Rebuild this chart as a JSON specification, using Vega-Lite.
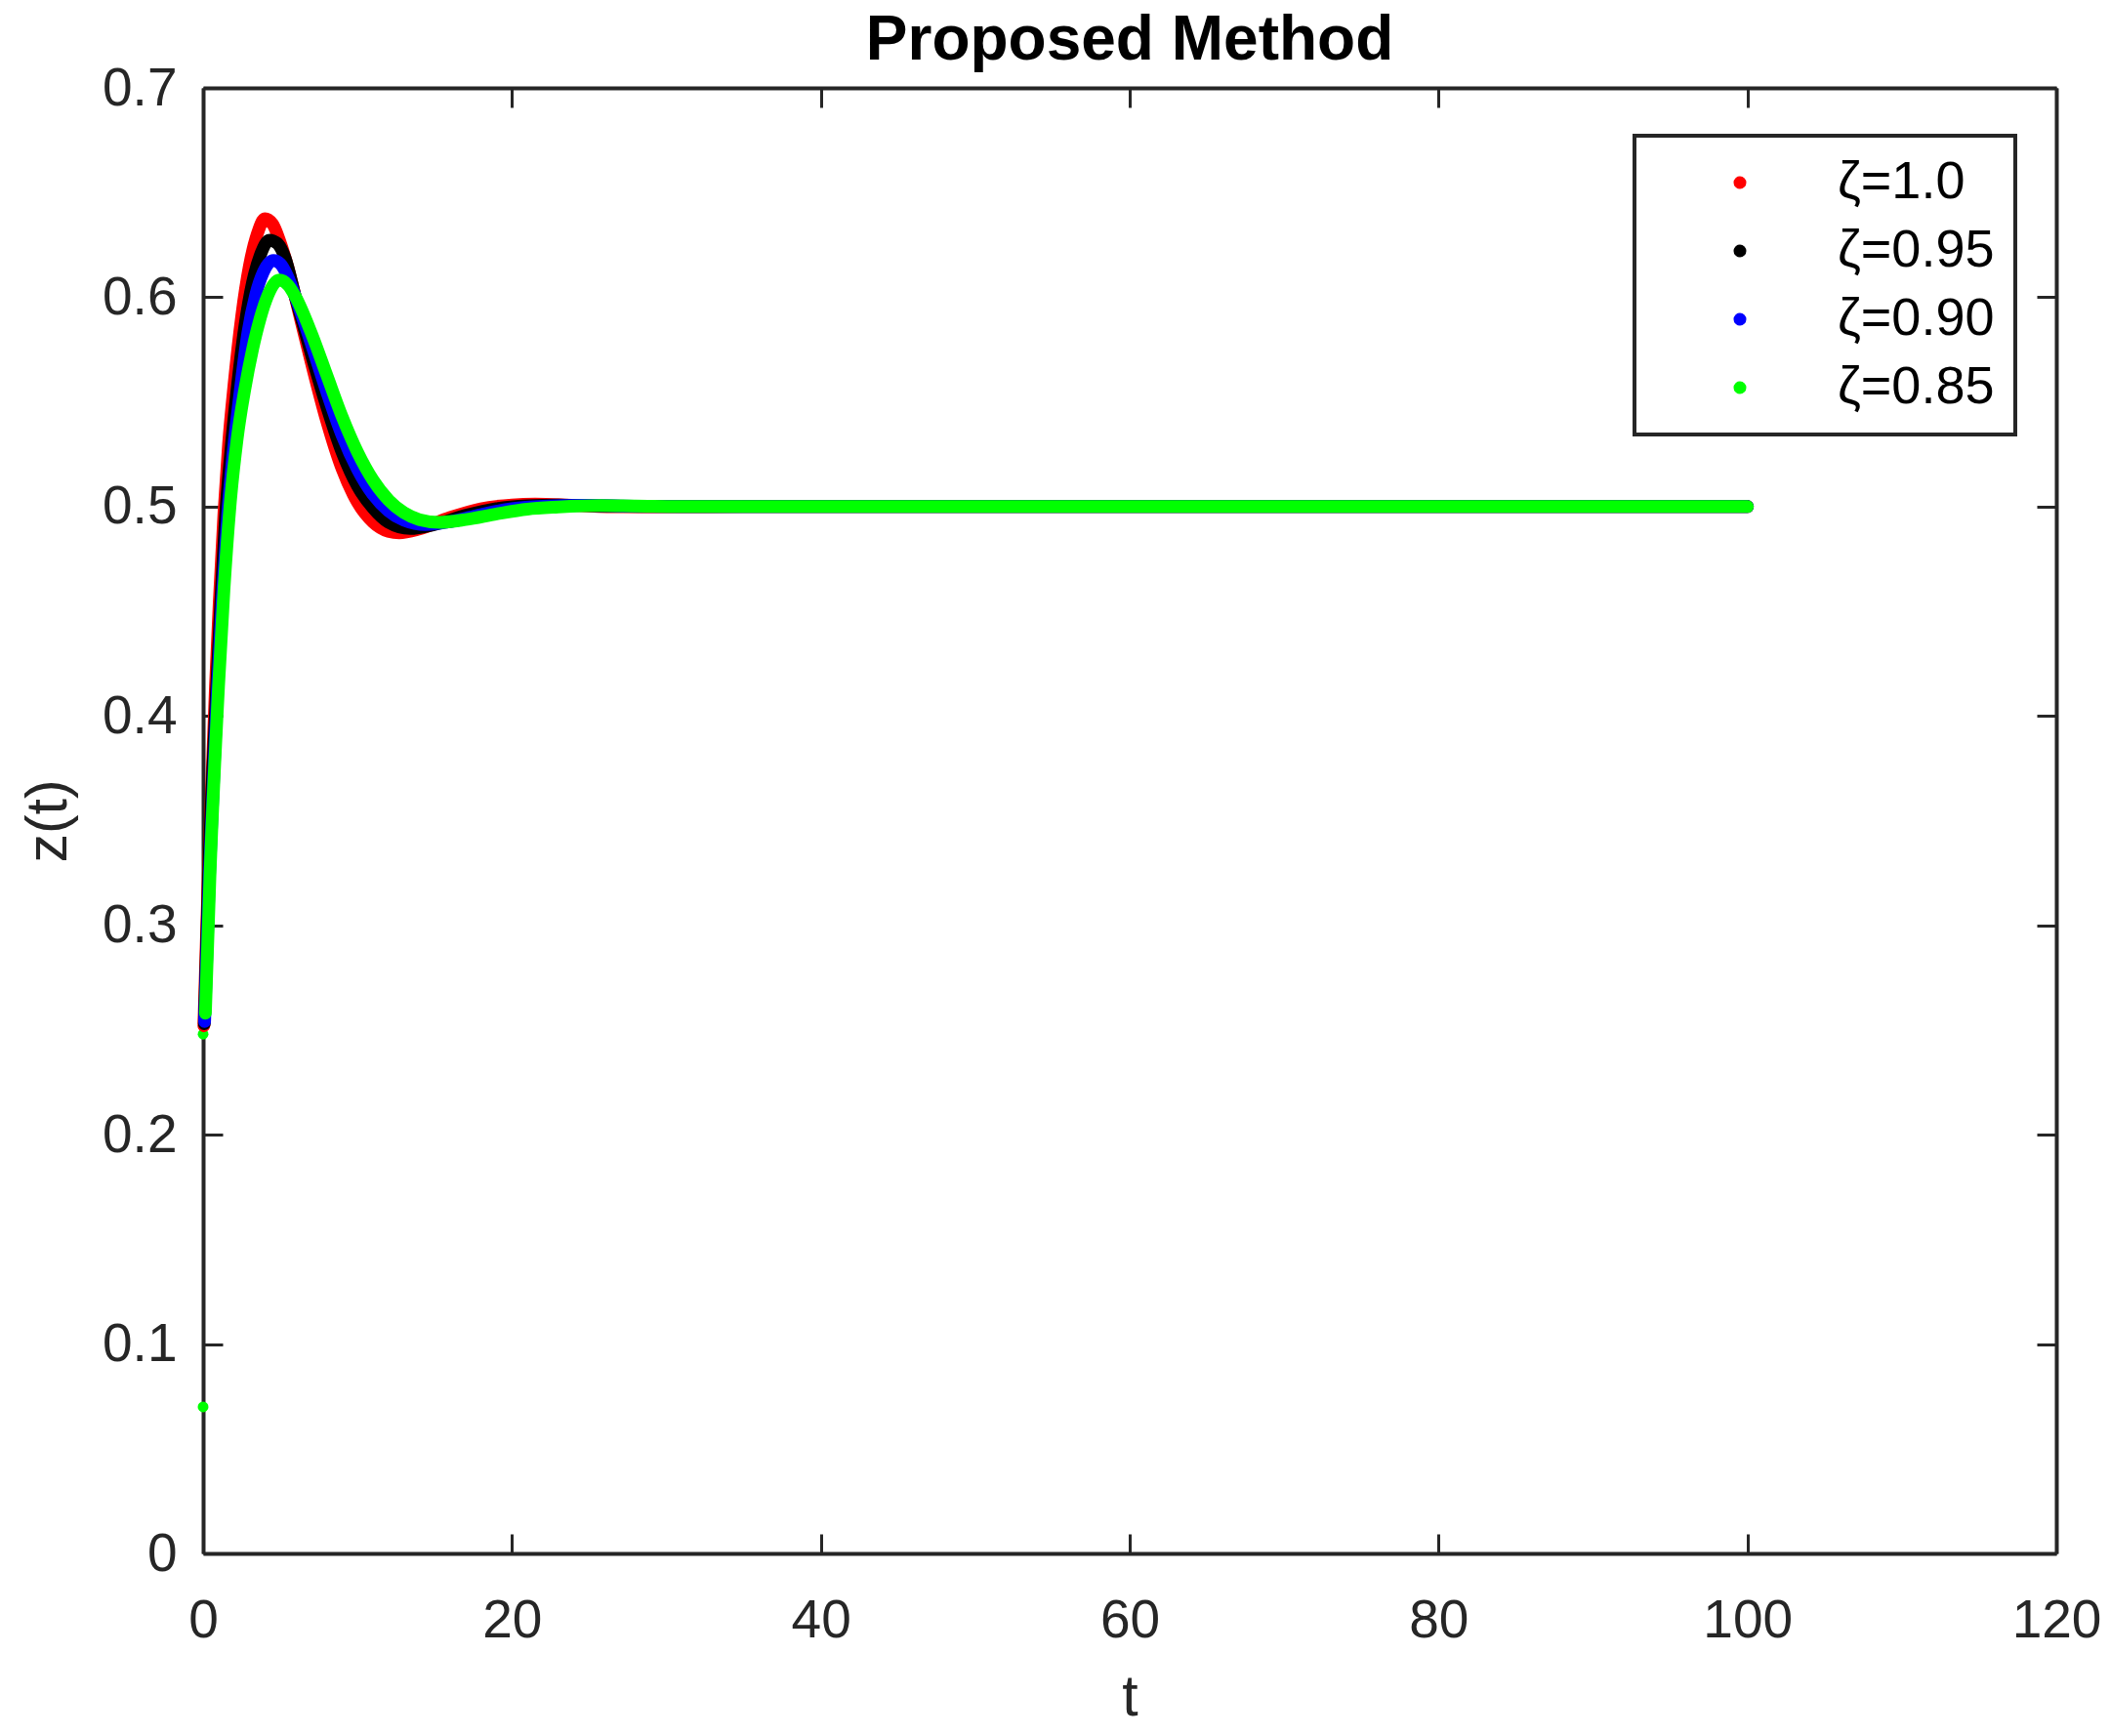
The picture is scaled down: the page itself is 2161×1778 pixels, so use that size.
{
  "$schema": "https://vega.github.io/schema/vega-lite/v6.json",
  "width": 1898,
  "height": 1501,
  "autosize": {"type": "none"},
  "padding": {"left": 208, "top": 90, "right": 55, "bottom": 187},
  "background": "white",
  "config": {
    "view": {"stroke": null},
    "font": "Liberation Sans",
    "legend": {"strokeWidth": 4}
  },
  "title": {"text": "Proposed Method", "fontSize": 64, "fontWeight": "bold", "color": "#000000", "font": "Liberation Sans", "offset": -11, "anchor": "middle"},
  "datasets": {
    "curves": [
      {"s": "ζ=1.0", "t": 0.05, "z": 0.252},
      {"s": "ζ=1.0", "t": 0.33, "z": 0.3225},
      {"s": "ζ=1.0", "t": 0.8, "z": 0.414},
      {"s": "ζ=1.0", "t": 1.05, "z": 0.455},
      {"s": "ζ=1.0", "t": 1.35, "z": 0.497},
      {"s": "ζ=1.0", "t": 1.65, "z": 0.53},
      {"s": "ζ=1.0", "t": 2.0, "z": 0.558},
      {"s": "ζ=1.0", "t": 2.5, "z": 0.591},
      {"s": "ζ=1.0", "t": 3.0, "z": 0.615},
      {"s": "ζ=1.0", "t": 3.5, "z": 0.63},
      {"s": "ζ=1.0", "t": 4.0, "z": 0.6375},
      {"s": "ζ=1.0", "t": 4.5, "z": 0.635},
      {"s": "ζ=1.0", "t": 5.0, "z": 0.626},
      {"s": "ζ=1.0", "t": 5.5, "z": 0.614},
      {"s": "ζ=1.0", "t": 6.0, "z": 0.599},
      {"s": "ζ=1.0", "t": 7.0, "z": 0.569},
      {"s": "ζ=1.0", "t": 8.0, "z": 0.541},
      {"s": "ζ=1.0", "t": 9.0, "z": 0.518},
      {"s": "ζ=1.0", "t": 10.0, "z": 0.502},
      {"s": "ζ=1.0", "t": 11.0, "z": 0.4926},
      {"s": "ζ=1.0", "t": 12.0, "z": 0.4882},
      {"s": "ζ=1.0", "t": 12.7, "z": 0.4875},
      {"s": "ζ=1.0", "t": 14.0, "z": 0.4893},
      {"s": "ζ=1.0", "t": 16.0, "z": 0.4948},
      {"s": "ζ=1.0", "t": 18.0, "z": 0.499},
      {"s": "ζ=1.0", "t": 20.0, "z": 0.5008},
      {"s": "ζ=1.0", "t": 21.5, "z": 0.5012},
      {"s": "ζ=1.0", "t": 24.0, "z": 0.5006},
      {"s": "ζ=1.0", "t": 27.0, "z": 0.4999},
      {"s": "ζ=1.0", "t": 30.0, "z": 0.4999},
      {"s": "ζ=1.0", "t": 35.0, "z": 0.5},
      {"s": "ζ=1.0", "t": 100.0, "z": 0.5},
      {"s": "ζ=0.95", "t": 0.08, "z": 0.253},
      {"s": "ζ=0.95", "t": 0.35, "z": 0.322},
      {"s": "ζ=0.95", "t": 0.87, "z": 0.412},
      {"s": "ζ=0.95", "t": 1.15, "z": 0.455},
      {"s": "ζ=0.95", "t": 1.45, "z": 0.495},
      {"s": "ζ=0.95", "t": 1.8, "z": 0.527},
      {"s": "ζ=0.95", "t": 2.2, "z": 0.556},
      {"s": "ζ=0.95", "t": 2.7, "z": 0.586},
      {"s": "ζ=0.95", "t": 3.2, "z": 0.607},
      {"s": "ζ=0.95", "t": 3.7, "z": 0.62},
      {"s": "ζ=0.95", "t": 4.3, "z": 0.6273},
      {"s": "ζ=0.95", "t": 4.8, "z": 0.6258},
      {"s": "ζ=0.95", "t": 5.3, "z": 0.619},
      {"s": "ζ=0.95", "t": 6.0, "z": 0.5995},
      {"s": "ζ=0.95", "t": 7.0, "z": 0.573},
      {"s": "ζ=0.95", "t": 8.0, "z": 0.548},
      {"s": "ζ=0.95", "t": 9.0, "z": 0.526},
      {"s": "ζ=0.95", "t": 10.0, "z": 0.5098},
      {"s": "ζ=0.95", "t": 11.0, "z": 0.4993},
      {"s": "ζ=0.95", "t": 12.0, "z": 0.4925},
      {"s": "ζ=0.95", "t": 13.4, "z": 0.4895},
      {"s": "ζ=0.95", "t": 15.0, "z": 0.4915},
      {"s": "ζ=0.95", "t": 17.0, "z": 0.4958},
      {"s": "ζ=0.95", "t": 19.0, "z": 0.499},
      {"s": "ζ=0.95", "t": 21.0, "z": 0.5004},
      {"s": "ζ=0.95", "t": 23.0, "z": 0.5008},
      {"s": "ζ=0.95", "t": 26.0, "z": 0.5003},
      {"s": "ζ=0.95", "t": 30.0, "z": 0.5},
      {"s": "ζ=0.95", "t": 100.0, "z": 0.5},
      {"s": "ζ=0.90", "t": 0.1, "z": 0.254},
      {"s": "ζ=0.90", "t": 0.4, "z": 0.322},
      {"s": "ζ=0.90", "t": 0.93, "z": 0.413},
      {"s": "ζ=0.90", "t": 1.25, "z": 0.457},
      {"s": "ζ=0.90", "t": 1.6, "z": 0.497},
      {"s": "ζ=0.90", "t": 1.95, "z": 0.526},
      {"s": "ζ=0.90", "t": 2.4, "z": 0.555},
      {"s": "ζ=0.90", "t": 2.9, "z": 0.583},
      {"s": "ζ=0.90", "t": 3.4, "z": 0.601},
      {"s": "ζ=0.90", "t": 3.9, "z": 0.612},
      {"s": "ζ=0.90", "t": 4.55, "z": 0.6176},
      {"s": "ζ=0.90", "t": 5.0, "z": 0.616},
      {"s": "ζ=0.90", "t": 5.5, "z": 0.6095},
      {"s": "ζ=0.90", "t": 6.0, "z": 0.5997},
      {"s": "ζ=0.90", "t": 7.0, "z": 0.578},
      {"s": "ζ=0.90", "t": 8.0, "z": 0.555},
      {"s": "ζ=0.90", "t": 9.0, "z": 0.534},
      {"s": "ζ=0.90", "t": 10.0, "z": 0.5178},
      {"s": "ζ=0.90", "t": 11.0, "z": 0.5058},
      {"s": "ζ=0.90", "t": 12.0, "z": 0.498},
      {"s": "ζ=0.90", "t": 13.0, "z": 0.4935},
      {"s": "ζ=0.90", "t": 14.4, "z": 0.4914},
      {"s": "ζ=0.90", "t": 16.0, "z": 0.4928},
      {"s": "ζ=0.90", "t": 18.0, "z": 0.4962},
      {"s": "ζ=0.90", "t": 20.0, "z": 0.499},
      {"s": "ζ=0.90", "t": 22.0, "z": 0.5002},
      {"s": "ζ=0.90", "t": 24.5, "z": 0.5006},
      {"s": "ζ=0.90", "t": 28.0, "z": 0.5002},
      {"s": "ζ=0.90", "t": 32.0, "z": 0.5},
      {"s": "ζ=0.90", "t": 100.0, "z": 0.5},
      {"s": "ζ=0.85", "t": 0.15, "z": 0.258},
      {"s": "ζ=0.85", "t": 0.44, "z": 0.3225},
      {"s": "ζ=0.85", "t": 1.0, "z": 0.414},
      {"s": "ζ=0.85", "t": 1.35, "z": 0.46},
      {"s": "ζ=0.85", "t": 1.74, "z": 0.5},
      {"s": "ζ=0.85", "t": 2.2, "z": 0.532},
      {"s": "ζ=0.85", "t": 2.7, "z": 0.556},
      {"s": "ζ=0.85", "t": 3.2, "z": 0.575},
      {"s": "ζ=0.85", "t": 3.7, "z": 0.59},
      {"s": "ζ=0.85", "t": 4.2, "z": 0.601},
      {"s": "ζ=0.85", "t": 4.6, "z": 0.6065},
      {"s": "ζ=0.85", "t": 4.93, "z": 0.6082},
      {"s": "ζ=0.85", "t": 5.5, "z": 0.6058},
      {"s": "ζ=0.85", "t": 6.0, "z": 0.6},
      {"s": "ζ=0.85", "t": 7.0, "z": 0.583},
      {"s": "ζ=0.85", "t": 8.0, "z": 0.563},
      {"s": "ζ=0.85", "t": 9.0, "z": 0.543},
      {"s": "ζ=0.85", "t": 10.0, "z": 0.526},
      {"s": "ζ=0.85", "t": 11.0, "z": 0.5127},
      {"s": "ζ=0.85", "t": 12.0, "z": 0.5032},
      {"s": "ζ=0.85", "t": 13.0, "z": 0.4971},
      {"s": "ζ=0.85", "t": 14.0, "z": 0.4938},
      {"s": "ζ=0.85", "t": 15.3, "z": 0.4925},
      {"s": "ζ=0.85", "t": 17.0, "z": 0.4938},
      {"s": "ζ=0.85", "t": 19.0, "z": 0.4965},
      {"s": "ζ=0.85", "t": 21.0, "z": 0.4988},
      {"s": "ζ=0.85", "t": 23.0, "z": 0.4998},
      {"s": "ζ=0.85", "t": 25.7, "z": 0.5005},
      {"s": "ζ=0.85", "t": 28.0, "z": 0.5003},
      {"s": "ζ=0.85", "t": 32.0, "z": 0.5},
      {"s": "ζ=0.85", "t": 100.0, "z": 0.5}
    ],
    "dots": [
      {"s": "ζ=1.0", "t": 0.05, "z": 0.252},
      {"s": "ζ=0.95", "t": 0.08, "z": 0.253},
      {"s": "ζ=0.90", "t": 0.1, "z": 0.254},
      {"s": "ζ=0.85", "t": 0.0, "z": 0.07},
      {"s": "ζ=0.85", "t": 0.0, "z": 0.248}
    ]
  },
  "layer": [
    {
      "data": {"name": "dots"},
      "mark": {"type": "point", "filled": true, "size": 120, "opacity": 1, "shape": "circle"},
      "encoding": {
        "x": {
          "field": "t", "type": "quantitative",
          "scale": {"domain": [0, 120], "nice": false, "zero": false},
          "axis": {
            "orient": "top", "values": [0, 20, 40, 60, 80, 100, 120], "labels": false, "title": null,
            "tickSize": -20, "tickWidth": 3, "tickColor": "#262626",
            "domainColor": "#262626", "domainWidth": 4, "grid": false
          }
        },
        "y": {
          "field": "z", "type": "quantitative",
          "scale": {"domain": [0, 0.7], "nice": false, "zero": false},
          "axis": {
            "orient": "right", "values": [0, 0.1, 0.2, 0.3, 0.4, 0.5, 0.6, 0.7], "labels": false, "title": null,
            "tickSize": -20, "tickWidth": 3, "tickColor": "#262626",
            "domainColor": "#262626", "domainWidth": 4, "grid": false
          }
        },
        "color": {
          "field": "s", "type": "nominal",
          "scale": {"domain": ["ζ=1.0", "ζ=0.95", "ζ=0.90", "ζ=0.85"], "range": ["#ff0000", "#000000", "#0000ff", "#00ff00"]},
          "legend": {
            "orient": "none", "legendX": 1466, "legendY": 49, "title": null,
            "symbolType": "circle", "symbolSize": 170, "symbolStrokeWidth": 0, "symbolOpacity": 1,
            "labelFont": "Liberation Sans", "labelFontSize": 54, "labelColor": "#000000", "labelLimit": 1000,
            "labelOffset": 73, "symbolOffset": 60, "padding": 21, "rowPadding": 16,
            "strokeColor": "#262626", "fillColor": "#ffffff"
          }
        }
      }
    },
    {
      "data": {"name": "curves"},
      "mark": {"type": "line", "strokeWidth": 13, "strokeCap": "round", "strokeJoin": "round", "interpolate": "monotone"},
      "encoding": {
        "x": {
          "field": "t", "type": "quantitative",
          "axis": {
            "orient": "bottom", "values": [0, 20, 40, 60, 80, 100, 120], "title": "t",
            "titleFont": "Liberation Sans", "titleFontSize": 59, "titleFontWeight": "normal", "titleColor": "#262626", "titlePadding": 22,
            "labelFont": "Liberation Sans", "labelFontSize": 55, "labelColor": "#262626", "labelPadding": 62, "labelFlush": false, "labelOverlap": false,
            "tickSize": -20, "tickWidth": 3, "tickColor": "#262626",
            "domainColor": "#262626", "domainWidth": 4, "grid": false
          }
        },
        "y": {
          "field": "z", "type": "quantitative",
          "axis": {
            "orient": "left", "values": [0, 0.1, 0.2, 0.3, 0.4, 0.5, 0.6, 0.7], "format": "~g", "title": "z(t)",
            "titleFont": "Liberation Sans", "titleFontSize": 59, "titleFontWeight": "normal", "titleColor": "#262626", "titlePadding": 25,
            "labelFont": "Liberation Sans", "labelFontSize": 55, "labelColor": "#262626", "labelPadding": 47, "labelFlush": false, "labelOverlap": false,
            "tickSize": -20, "tickWidth": 3, "tickColor": "#262626",
            "domainColor": "#262626", "domainWidth": 4, "grid": false
          }
        },
        "color": {
          "field": "s", "type": "nominal",
          "legend": {
            "orient": "none", "legendX": 1466, "legendY": 49, "title": null,
            "symbolType": "circle", "symbolSize": 170, "symbolStrokeWidth": 0, "symbolOpacity": 1,
            "labelFont": "Liberation Sans", "labelFontSize": 54, "labelColor": "#000000", "labelLimit": 1000,
            "labelOffset": 73, "symbolOffset": 60, "padding": 21, "rowPadding": 16,
            "strokeColor": "#262626", "fillColor": "#ffffff"
          }
        }
      }
    }
  ],
  "resolve": {"axis": {"x": "independent", "y": "independent"}}
}
